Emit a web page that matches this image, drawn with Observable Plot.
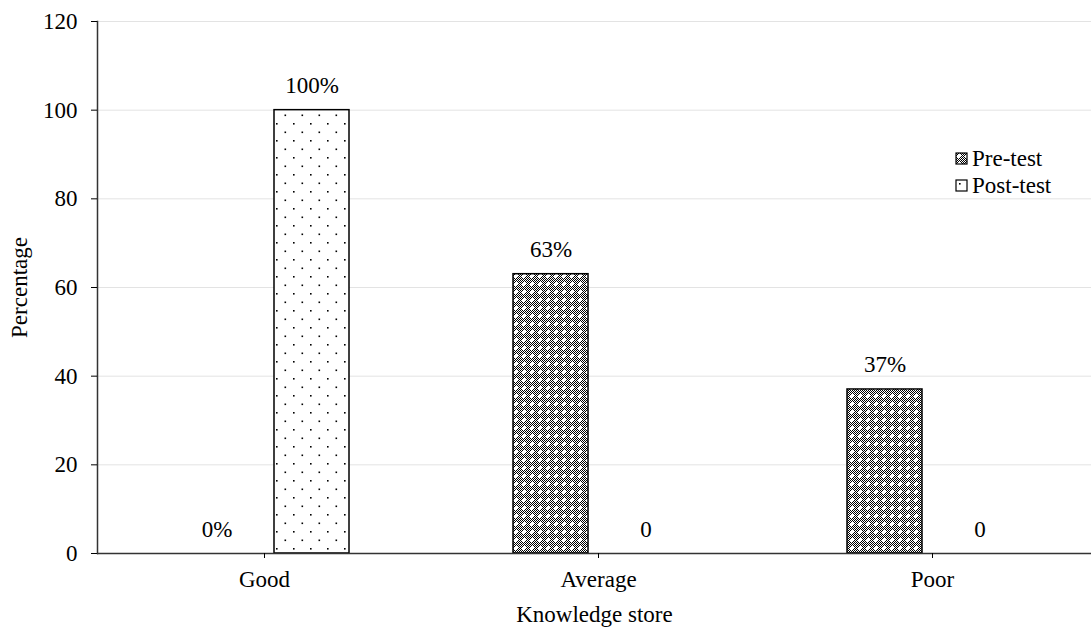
<!DOCTYPE html>
<html>
<head>
<meta charset="utf-8">
<script src="https://cdn.jsdelivr.net/npm/d3@7"></script>
<script src="https://cdn.jsdelivr.net/npm/@observablehq/plot@0.6"></script>
<style>
  body { margin: 0; background: white; font-family: "Liberation Serif", "DejaVu Serif", serif; }
  #wrap { position: relative; width: 1091px; height: 630px; }
  .legend { position: absolute; left: 955px; top: 145px; font-size: 23px; line-height: 27px; color: black; }
  .legend div { display: flex; align-items: center; white-space: nowrap; }
  .legend svg { margin-right: 3px; }
</style>
</head>
<body>
<div id="wrap"></div>
<script>
// Knowledge score distribution before and after the session
const categories = ["Good", "Average", "Poor"];
const preTest = [0, 63, 37];
const postTest = [100, 0, 0];
const preLabels = ["0%", "63%", "37%"];
const postLabels = ["100%", "0", "0"];
const yTicks = [0, 20, 40, 60, 80, 100, 120];
const seriesNames = ["Pre-test", "Post-test"];

const rows = categories.map((category, i) => ({
  category,
  pre: preTest[i],
  post: postTest[i],
  preLabel: preLabels[i],
  postLabel: postLabels[i]
}));

const font = "'Liberation Serif', 'DejaVu Serif', serif";

const chart = Plot.plot({
  width: 1091,
  height: 630,
  marginLeft: 97,
  marginRight: 0,
  marginTop: 21,
  marginBottom: 77,
  style: { fontFamily: font, fontSize: "23px", color: "black", background: "white" },
  x: { domain: categories, range: [97, 1099], padding: 0 },
  y: { domain: [0, 120] },
  marks: [
    Plot.gridY(yTicks, { stroke: "#e3e3e3", strokeOpacity: 1 }),
    Plot.barY(rows.filter(d => d.pre > 0), {
      x: "category", y: "pre", fill: "url(#pre-fill)", stroke: "black", strokeWidth: 1.5,
      insetLeft: 82, insetRight: 177
    }),
    Plot.barY(rows.filter(d => d.post > 0), {
      x: "category", y: "post", fill: "url(#post-fill)", stroke: "black", strokeWidth: 1.5,
      insetLeft: 177, insetRight: 82
    }),
    Plot.text(rows, { x: "category", y: "pre", text: "preLabel", dx: -47.5, dy: -17, lineAnchor: "bottom", fontSize: 23 }),
    Plot.text(rows, { x: "category", y: "post", text: "postLabel", dx: 47.5, dy: -17, lineAnchor: "bottom", fontSize: 23 }),
    Plot.ruleY([0], { stroke: "#333", strokeWidth: 1.5 }),
    Plot.frame({ anchor: "left", stroke: "#333", strokeWidth: 1.5 }),
    Plot.axisY({
      ticks: yTicks, tickSize: 6, tickPadding: 14, fontSize: 23,
      label: "Percentage", labelAnchor: "center", labelOffset: 87, labelArrow: "none"
    }),
    Plot.axisX({
      tickSize: 5, tickPadding: 12, fontSize: 23,
      label: "Knowledge store", labelAnchor: "center", labelOffset: 68, labelArrow: "none"
    })
  ]
});

// fill patterns for the two series
const defs = `
  <pattern id="check" width="2" height="2" patternUnits="userSpaceOnUse">
    <rect width="2" height="2" fill="white"/>
    <rect width="1" height="1" fill="black"/>
    <rect x="1" y="1" width="1" height="1" fill="black"/>
  </pattern>
  <pattern id="pre-fill" width="8" height="8" patternUnits="userSpaceOnUse">
    <rect width="8" height="8" fill="url(#check)"/>
    <rect x="3" y="2" width="2" height="4" fill="white"/>
    <rect x="2" y="3" width="4" height="2" fill="white"/>
  </pattern>
  <pattern id="post-fill" width="17" height="17" patternUnits="userSpaceOnUse">
    <rect width="17" height="17" fill="white"/>
    <rect x="4" y="4" width="1.6" height="1.6" fill="black"/>
    <rect x="12.5" y="12.5" width="1.6" height="1.6" fill="black"/>
  </pattern>`;
d3.select(chart).insert("defs", ":first-child").html(defs);

const wrap = document.getElementById("wrap");
wrap.appendChild(chart);

// legend
const legend = document.createElement("div");
legend.className = "legend";
const fills = ["pre-fill", "post-fill"];
seriesNames.forEach((name, i) => {
  const item = document.createElement("div");
  item.innerHTML = `<svg width="14" height="14"><defs>${defs.replace(/id="/g, 'id="lg' + i + '-').replace(/url\(#/g, 'url(#lg' + i + '-')}</defs><rect x="1" y="1" width="11" height="11" fill="url(#lg${i}-${fills[i]})" stroke="black" stroke-width="1.2"/></svg><span>${name}</span>`;
  legend.appendChild(item);
});
wrap.appendChild(legend);
</script>
</body>
</html>
